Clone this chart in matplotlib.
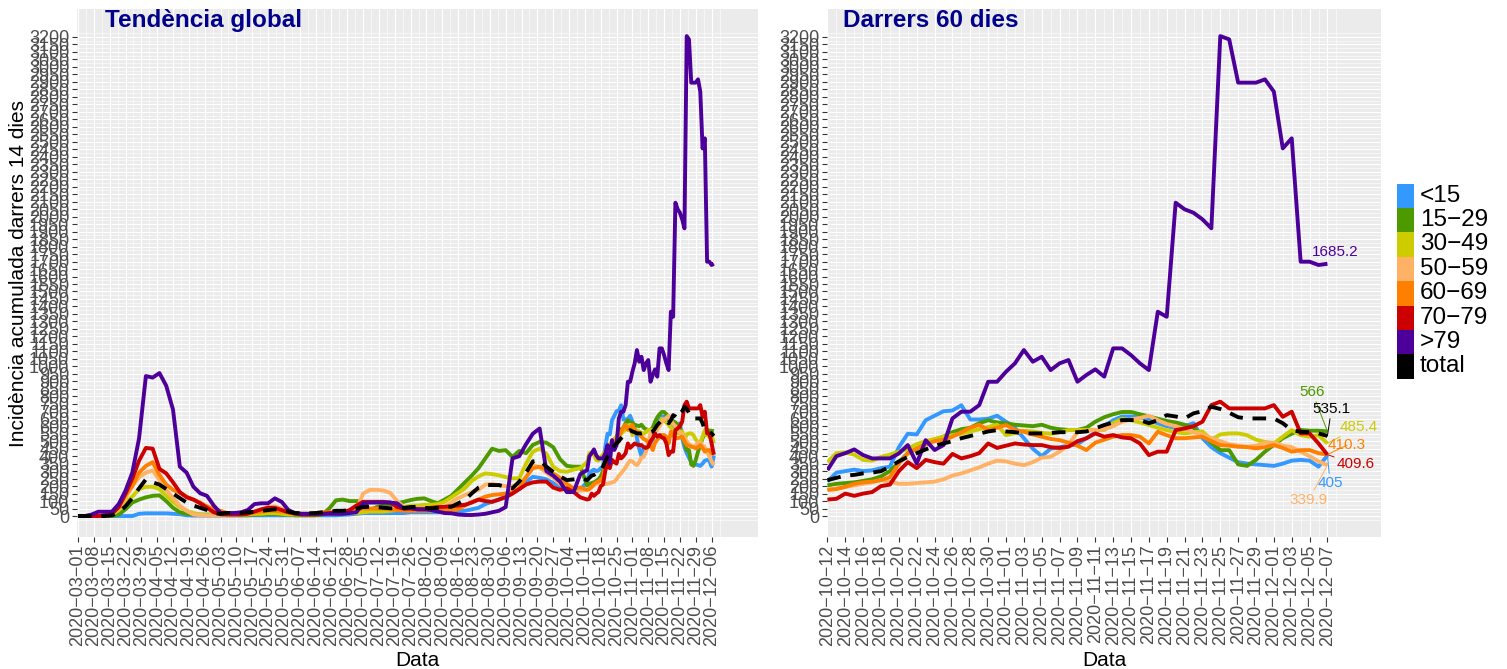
import numpy as np
import pandas as pd
import matplotlib
matplotlib.use('Agg')
import matplotlib.pyplot as plt
import matplotlib.dates as mdates
from matplotlib.patches import Rectangle

plt.rcParams['font.family'] = ['Liberation Sans', 'DejaVu Sans']

# sampling grid: every 3 days until 10-09, then daily (last 57 days)
early_dates = pd.date_range('2020-03-01', periods=75, freq='3D')
late_dates = pd.date_range('2020-10-12', '2020-12-07', freq='D')

groups = ['<15', '15\u221229', '30\u221249', '50\u221259', '60\u221269', '70\u221279', '>79', 'total']
colors = ['#3399FF', '#4C9900', '#CCCC00', '#FFB266', '#FF8000', '#CC0000', '#4C0099', '#000000']

# ---- incidence values ----
lt15_early = [0, 0, 0, 0, 0, 0, 0, 0, 0, 15, 18, 18, 18, 18, 15, 12, 5, 3, 3, 3, 3, 3,
              5, 5, 5, 5, 5, 5, 5, 5, 5, 5, 5, 5, 5, 5, 5, 5, 5, 8, 10, 15, 20, 20, 20, 20,
              20, 20, 20, 25, 25, 25, 25, 25, 28, 29, 30, 35, 45, 55, 80, 95, 110, 135, 155,
              180, 230, 262, 255, 245, 220, 195, 175, 160, 175]
lt15_late = [230, 290, 300, 310, 300, 305, 320, 330, 460, 550, 545, 640, 670, 700, 705, 740,
             645, 645, 650, 670, 630, 590, 520, 450, 400, 450, 460, 470, 480, 520, 560, 600,
             640, 665, 665, 660, 640, 620, 600, 590, 600, 620, 520, 460, 420, 390, 360, 350,
             345, 340, 335, 350, 370, 375, 370, 330, 405]

a15_early = [0, 0, 0, 0, 0, 0, 10, 45, 90, 110, 125, 135, 138, 100, 55, 25, 15, 10, 10, 10,
             10, 10, 5, 5, 5, 5, 10, 10, 15, 15, 10, 10, 5, 5, 5, 5, 10, 50, 105, 110, 100,
             100, 95, 40, 60, 70, 80, 85, 95, 107, 115, 118, 100, 85, 110, 135, 180, 225, 270,
             320, 385, 450, 435, 440, 395, 435, 420, 475, 495, 490, 460, 380, 335, 330, 330]
a15_late = [205, 215, 220, 225, 235, 245, 265, 300, 360, 420, 450, 480, 510, 530, 560, 580,
            590, 620, 640, 625, 620, 610, 605, 600, 610, 590, 580, 575, 575, 590, 630, 660,
            680, 695, 695, 680, 665, 650, 635, 625, 610, 590, 540, 490, 440, 440, 345, 335,
            375, 430, 475, 520, 550, 575, 570, 570, 566]

a30_early = [0, 0, 0, 0, 0, 10, 40, 90, 130, 180, 195, 195, 180, 135, 95, 60, 35, 20, 10, 5,
             5, 5, 10, 10, 10, 10, 15, 15, 20, 20, 15, 10, 10, 10, 10, 10, 15, 20, 20, 20, 20,
             20, 25, 30, 30, 30, 35, 40, 60, 70, 70, 75, 75, 80, 95, 125, 155, 185, 235, 265,
             285, 280, 272, 260, 252, 252, 350, 430, 450, 415, 330, 300, 296, 310, 320]
a30_late = [360, 420, 425, 410, 375, 370, 395, 410, 430, 450, 480, 500, 515, 530, 540, 550,
            565, 580, 595, 610, 540, 555, 570, 565, 555, 550, 560, 575, 575, 575, 575, 575,
            620, 650, 640, 625, 608, 590, 574, 560, 552, 560, 565, 510, 545, 552, 552, 540,
            510, 495, 485, 530, 574, 540, 530, 540, 485.4]

a50_early = [0, 0, 0, 0, 0, 10, 50, 120, 200, 260, 290, 305, 240, 175, 120, 70, 35, 10, 5, 5,
             5, 5, 5, 5, 10, 15, 25, 40, 60, 65, 50, 30, 20, 15, 15, 15, 15, 15, 20, 25, 30,
             40, 150, 175, 175, 170, 155, 100, 60, 55, 50, 50, 50, 50, 60, 90, 120, 140, 160,
             175, 210, 215, 205, 200, 200, 215, 260, 340, 325, 290, 255, 215, 190, 175, 170]
a50_late = [175, 185, 195, 205, 215, 225, 240, 230, 215, 215, 220, 225, 230, 245, 270, 285,
            305, 325, 350, 370, 365, 350, 340, 360, 390, 396, 430, 475, 560, 570, 575, 580,
            600, 630, 645, 655, 670, 640, 615, 600, 580, 560, 545, 520, 500, 480, 470, 463,
            470, 490, 490, 470, 460, 430, 400, 365, 339.9]

a60_early = [0, 0, 0, 0, 5, 20, 60, 140, 200, 290, 335, 360, 275, 210, 175, 155, 130, 110, 90,
             65, 45, 35, 20, 20, 15, 20, 25, 30, 35, 35, 30, 25, 20, 15, 15, 20, 25, 25, 25, 25,
             30, 40, 50, 50, 50, 50, 45, 40, 35, 35, 35, 35, 35, 40, 40, 40, 45, 70, 95, 110,
             130, 140, 145, 150, 160, 185, 260, 320, 330, 310, 285, 255, 215, 185, 190]
a60_late = [175, 180, 195, 215, 225, 230, 240, 260, 350, 420, 450, 480, 500, 510, 530, 560,
            590, 610, 575, 590, 608, 575, 563, 545, 530, 515, 507, 490, 470, 441, 490, 510,
            530, 541, 541, 530, 485, 563, 540, 520, 520, 525, 530, 500, 474, 470, 463, 460,
            452, 460, 474, 455, 430, 440, 441, 420, 410.3]

a70_early = [0, 0, 0, 0, 5, 15, 60, 150, 250, 370, 455, 450, 315, 285, 225, 160, 125, 110, 85,
             55, 25, 12, 10, 10, 10, 15, 30, 45, 55, 55, 40, 25, 15, 10, 10, 10, 15, 20, 25, 25,
             40, 70, 95, 95, 95, 95, 90, 60, 50, 50, 45, 45, 55, 60, 62, 65, 70, 75, 90, 110,
             100, 95, 110, 125, 150, 180, 210, 225, 230, 230, 190, 175, 185, 160, 125]
a70_late = [110, 115, 150, 135, 150, 160, 200, 210, 300, 360, 320, 375, 360, 350, 415, 385,
            400, 420, 485, 455, 470, 485, 478, 474, 474, 460, 455, 463, 500, 519, 552, 530,
            541, 525, 519, 485, 407, 430, 430, 574, 585, 600, 630, 741, 764, 719, 719, 719,
            719, 719, 741, 663, 697, 552, 552, 485, 409.6]

a80_early = [0, 0, 10, 29, 29, 29, 80, 170, 290, 520, 935, 925, 955, 870, 710, 330, 290, 196,
             152, 135, 70, 20, 20, 20, 25, 40, 80, 85, 85, 118, 95, 40, 18, 15, 15, 15, 15, 15,
             15, 15, 20, 25, 85, 90, 90, 90, 90, 85, 50, 55, 45, 45, 40, 30, 20, 18, 10, 7, 7,
             10, 15, 25, 35, 60, 385, 400, 480, 550, 585, 300, 270, 230, 160, 160, 280]
a80_late = [307, 400, 420, 445, 407, 385, 385, 385, 418, 474, 351, 507, 441, 474, 652, 697,
            697, 741, 897, 897, 964, 1020, 1109, 1031, 1064, 975, 1020, 1042, 897, 942, 980,
            931, 1120, 1120, 1075, 1020, 975, 1365, 1331, 2093, 2049, 2026, 1982, 1922, 3206,
            3184, 2895, 2895, 2895, 2917, 2835, 2456, 2523, 1699, 1699, 1677, 1685.2]

total_early = [0, 0, 0, 0, 0, 5, 25, 65, 120, 185, 245, 225, 210, 180, 150, 120, 90, 70, 55,
               40, 20, 15, 20, 20, 20, 25, 29, 35, 40, 45, 40, 30, 20, 18, 18, 20, 25, 30, 35,
               35, 40, 50, 60, 62, 60, 55, 52, 50, 55, 60, 62, 55, 51, 55, 62, 62, 85, 107, 151,
               190, 207, 207, 207, 195, 185, 230, 290, 365, 372, 330, 295, 265, 240, 245, 252]
total_late = [240, 255, 270, 275, 285, 290, 300, 330, 365, 395, 420, 445, 470, 485, 500, 520,
              535, 550, 565, 574, 565, 560, 552, 552, 552, 555, 560, 560, 560, 565, 585, 608,
              625, 641, 641, 641, 620, 640, 674, 665, 652, 686, 700, 730, 715, 690, 660, 652,
              652, 652, 652, 620, 574, 563, 560, 552, 535.1]

series_early = [lt15_early, a15_early, a30_early, a50_early, a60_early, a70_early, a80_early, total_early]
series_late = [lt15_late, a15_late, a30_late, a50_late, a60_late, a70_late, a80_late, total_late]

# end-label placement (days after last date, y value, draw connector)
label_pos = [(0.3, 220, True), (-1.7, 828, True), (3.5, 595, True), (-2.1, 107, True),
             (2.2, 474, True), (3.2, 347, True), (0.9, 1763, False), (0.45, 715, True)]

BG = '#EBEBEB'
TXT = '#4D4D4D'


def label_date(d):
    return d.strftime('%Y-%m-%d').replace('-', '\u2212')


def style_panel(ax, ticks, minor_x, xlim):
    ax.set_facecolor(BG)
    for s in ax.spines.values():
        s.set_visible(False)
    ax.set_xlim(xlim)
    ax.set_ylim(-140, 3387)
    yt = np.arange(0, 3201, 50)
    ax.set_yticks(yt)
    ax.set_yticklabels([str(v) for v in yt], fontsize=13, color=TXT)
    ax.set_yticks(np.arange(-25, 3226, 50), minor=True)
    ax.set_xticks(mdates.date2num(ticks))
    ax.set_xticklabels([label_date(d) for d in ticks], rotation=90, fontsize=13, color=TXT)
    ax.set_xticks(minor_x, minor=True)
    ax.tick_params(which='major', length=3.5, width=0.8, color='#333333', pad=2)
    ax.tick_params(which='minor', length=0)
    ax.grid(which='major', color='white', linewidth=0.8)
    ax.grid(which='minor', color='white', linewidth=0.4)
    ax.set_axisbelow(True)


fig = plt.figure(figsize=(15.07, 6.69), dpi=100)
W, H = 1507, 669
ax1 = fig.add_axes([77 / W, 1 - 537 / H, (758 - 77) / W, (537 - 9) / H])
ax2 = fig.add_axes([827 / W, 1 - 537 / H, (1381 - 827) / W, (537 - 9) / H])

all_dates = early_dates.append(late_dates)
x_all = mdates.date2num(all_dates)
x_late = mdates.date2num(late_dates)

for i, g in enumerate(groups):
    y_all = list(series_early[i]) + list(series_late[i])
    kw = dict(color=colors[i], linewidth=2.8, solid_capstyle='butt', solid_joinstyle='round')
    if g == 'total':
        kw.update(linestyle=(0, (3.5, 2.5)), dash_capstyle='butt')
    ax1.plot(x_all, y_all, **kw)
    ax2.plot(x_late, series_late[i], **kw)

# left panel
t0 = mdates.date2num(pd.Timestamp('2020-03-01'))
ticks1 = pd.date_range('2020-03-01', '2020-12-06', freq='7D')
minor1 = mdates.date2num(ticks1) + 3.5
style_panel(ax1, ticks1, minor1, (t0 - 0.44, t0 + 300.5))
ax1.text(t0 + 12, 3313, 'Tendència global', fontsize=17.5, fontweight='bold',
         color='#00008B', ha='left', va='center')

# right panel
t1 = mdates.date2num(pd.Timestamp('2020-10-12'))
ticks2 = pd.date_range('2020-10-12', '2020-12-07', freq='2D')
minor2 = mdates.date2num(ticks2) + 1
style_panel(ax2, ticks2, minor2, (t1 - 0.05, t1 + 62.0))
ax2.text(t1 + 1.7, 3313, 'Darrers 60 dies', fontsize=17.5, fontweight='bold',
         color='#00008B', ha='left', va='center')

# end labels
x_end = x_late[-1]
for i, g in enumerate(groups):
    v = series_late[i][-1]
    dx, ty, seg = label_pos[i]
    txt = ('%.1f' % v).rstrip('0').rstrip('.')
    ap = dict(arrowstyle='-', color=colors[i], linewidth=0.7, shrinkA=0, shrinkB=0) if seg else None
    ax2.annotate(txt, xy=(x_end, v), xytext=(x_end + dx, ty), fontsize=11,
                 color=colors[i], ha='center', va='center', arrowprops=ap)

# axis titles
fig.text(19 / W, 1 - 273 / H, 'Incidència acumulada darrers 14 dies', rotation=90,
         ha='center', va='center', fontsize=15)
fig.text(417.5 / W, 1 - 660 / H, 'Data', ha='center', va='center', fontsize=15)
fig.text(1104 / W, 1 - 660 / H, 'Data', ha='center', va='center', fontsize=15)

# legend
lax = fig.add_axes([0, 0, 1, 1], facecolor='none')
lax.set_xlim(0, W)
lax.set_ylim(H, 0)
lax.axis('off')
key_h = 24.4
for i, g in enumerate(groups):
    top = 183.5 + i * key_h
    lax.add_patch(Rectangle((1397, top), 17, key_h, facecolor=colors[i], edgecolor='none'))
    lax.text(1420, top + key_h / 2, g, fontsize=17.5, ha='left', va='center')

fig.savefig('out.png', dpi=100)
